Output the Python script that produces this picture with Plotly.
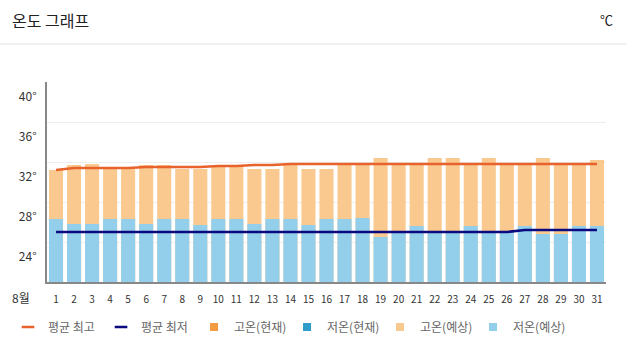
import plotly.graph_objects as go

days = list(range(1, 32))
day_labels = [str(d) for d in days]

high_forecast = [31.2, 31.7, 31.8, 31.3, 31.3, 31.7, 31.7, 31.3, 31.3, 31.6,
                 31.6, 31.3, 31.3, 31.8, 31.3, 31.3, 31.8, 31.8, 32.4, 31.8,
                 31.8, 32.4, 32.4, 31.8, 32.4, 31.8, 31.8, 32.4, 31.8, 31.8, 32.2]
low_forecast = [26.3, 25.8, 25.8, 26.3, 26.3, 25.8, 26.3, 26.3, 25.7, 26.3,
                26.3, 25.8, 26.3, 26.3, 25.7, 26.3, 26.3, 26.4, 24.5, 25.0,
                25.6, 25.0, 25.0, 25.6, 25.0, 25.0, 25.6, 24.8, 24.8, 25.6, 25.6]
avg_high = [31.2, 31.4, 31.4, 31.4, 31.4, 31.5, 31.5, 31.5, 31.5, 31.6,
            31.6, 31.7, 31.7, 31.8, 31.8, 31.8, 31.8, 31.8, 31.8, 31.8,
            31.8, 31.8, 31.8, 31.8, 31.8, 31.8, 31.8, 31.8, 31.8, 31.8, 31.8]
avg_low = [25.0] * 26 + [25.2] * 5

y_ticks = [24, 28, 32, 36, 40]
y_tick_text = ["24°", "28°", "32°", "36°", "40°"]

C_HIGH_NOW = "#F59B42"
C_LOW_NOW = "#2E9CC9"
C_HIGH_FC = "#F9C98F"
C_LOW_FC = "#93CFEB"
C_AVG_HIGH = "#E8622C"
C_AVG_LOW = "#0A0A80"

FONT = "Noto Sans CJK KR"

fig = go.Figure()
fig.add_trace(go.Bar(x=days, y=high_forecast, marker=dict(color=C_HIGH_FC, line=dict(width=0)),
                     showlegend=False, hoverinfo="y"))
fig.add_trace(go.Bar(x=days, y=low_forecast, marker=dict(color=C_LOW_FC, line=dict(width=0)),
                     showlegend=False, hoverinfo="y"))
fig.add_trace(go.Scatter(x=days, y=avg_high, mode="lines", line=dict(color=C_AVG_HIGH, width=2.5),
                         showlegend=False))
fig.add_trace(go.Scatter(x=days, y=avg_low, mode="lines", line=dict(color=C_AVG_LOW, width=2.5),
                         showlegend=False))

legend_items = [
    ("평균 최고", "line-ew", C_AVG_HIGH),
    ("평균 최저", "line-ew", C_AVG_LOW),
    ("고온(현재)", "square", C_HIGH_NOW),
    ("저온(현재)", "square", C_LOW_NOW),
    ("고온(예상)", "square", C_HIGH_FC),
    ("저온(예상)", "square", C_LOW_FC),
]
for name, sym, col in legend_items:
    if sym == "line-ew":
        mk = dict(symbol=sym, size=9, color=col, line=dict(color=col, width=2.5))
    else:
        mk = dict(symbol=sym, size=8, color=col, line=dict(width=0))
    fig.add_trace(go.Scatter(x=[None], y=[None], mode="markers", name=name, marker=mk))

fig.update_layout(
    width=627, height=356,
    margin=dict(l=47, r=21, t=82, b=74, autoexpand=False),
    paper_bgcolor="white", plot_bgcolor="white",
    barmode="overlay", bargap=0.22,
    font=dict(family=FONT, color="#333"),
    showlegend=True,
    legend=dict(orientation="h", xref="container", yref="container",
                x=0.0128, xanchor="left", y=0.0815, yanchor="middle",
                entrywidth=48, entrywidthmode="pixels", itemwidth=30,
                font=dict(size=12, color="#666", family=FONT), bgcolor="rgba(0,0,0,0)",
                traceorder="normal"),
    xaxis=dict(range=[0.5, 31.5], tickmode="array", tickvals=days, ticktext=day_labels,
               showgrid=False, showline=True, linecolor="#888", linewidth=2,
               ticks="", tickfont=dict(size=10, color="#333"), ticklabelstandoff=7,
               zeroline=False, fixedrange=True),
    yaxis=dict(range=[20, 40], tickmode="array", tickvals=y_ticks, ticktext=y_tick_text,
               showgrid=True, gridcolor="#EEEEEE", gridwidth=1,
               showline=True, linecolor="#888", linewidth=2, ticks="",
               tickfont=dict(size=12, color="#333"), ticklabelshift=15, ticklabelstandoff=6,
               zeroline=False, fixedrange=True),
    shapes=[dict(type="line", xref="paper", yref="paper", x0=-0.09, x1=1.05, y0=1.19, y1=1.19,
                 line=dict(color="#E2E2E2", width=1))],
    annotations=[
        dict(text="온도 그래프", xref="paper", yref="paper", x=-0.066, y=1.31, xanchor="left",
             yanchor="middle", showarrow=False, font=dict(size=16, color="#222", family=FONT)),
        dict(text="℃", xref="paper", yref="paper", x=1.016, y=1.31, xanchor="right",
             yanchor="middle", showarrow=False, font=dict(size=13, color="#222", family=FONT)),
        dict(text="8월", xref="paper", yref="paper", x=-0.047, y=-0.075, xanchor="center",
             yanchor="middle", showarrow=False, font=dict(size=12, color="#333", family=FONT)),
    ],
)

fig.write_html("out.html", config={"displayModeBar": False},
               post_script="document.body.style.margin='0px';")
